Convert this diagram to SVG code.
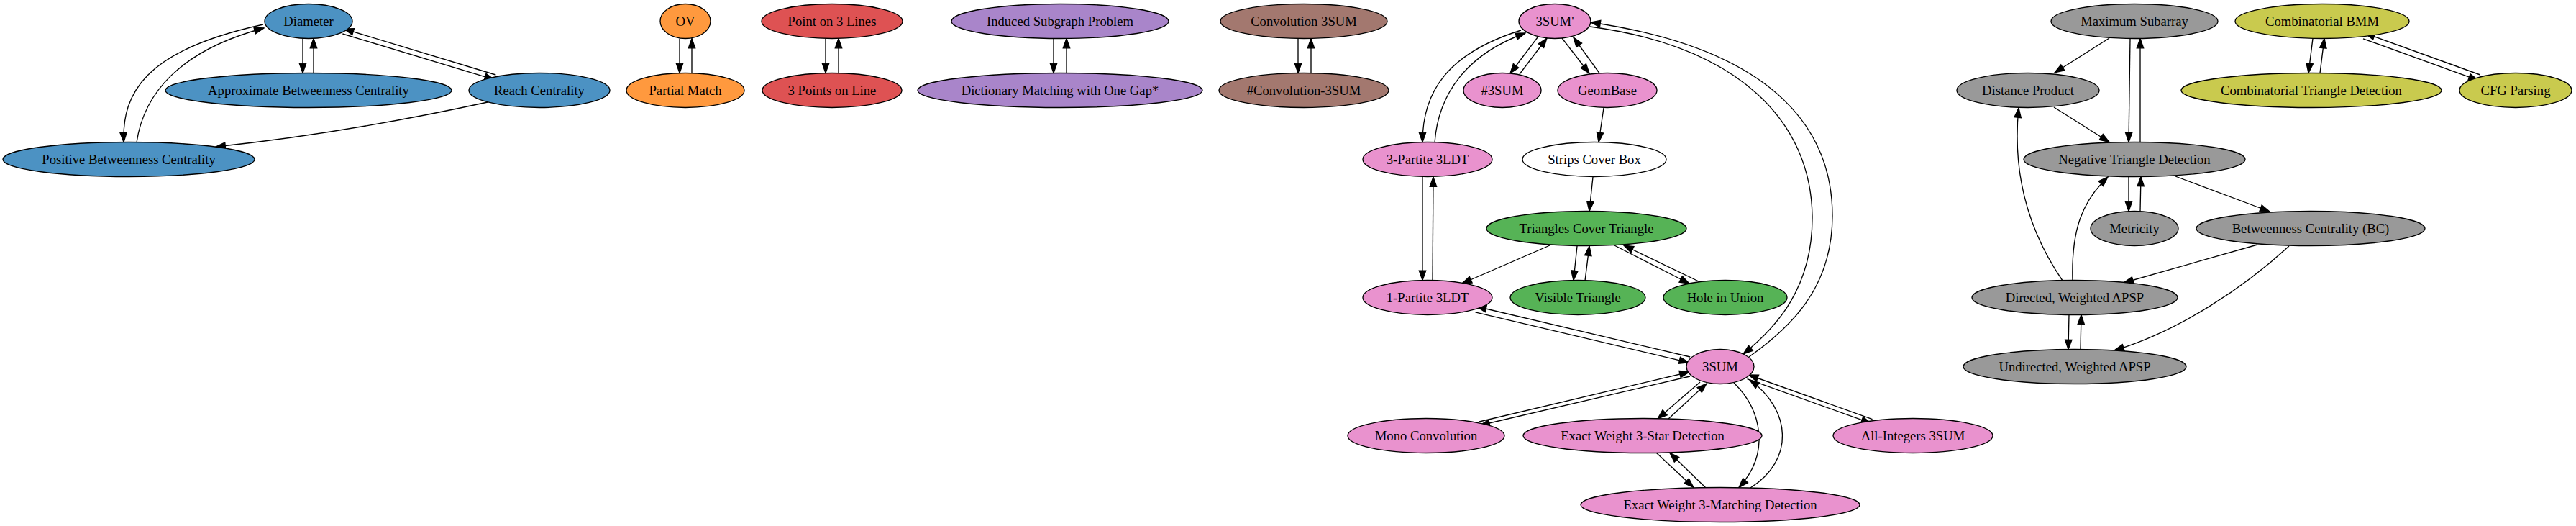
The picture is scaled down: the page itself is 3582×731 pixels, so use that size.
<svg xmlns="http://www.w3.org/2000/svg" width="3582" height="731" viewBox="0 0 3582 731">
<style>
.n ellipse{stroke:#000;stroke-width:1.33}
.n text{font-family:"Liberation Serif","Times New Roman",serif;font-size:18.67px;text-anchor:middle;fill:#000}
.blue ellipse{fill:#4c92c3}.orange ellipse{fill:#ff993e}.red ellipse{fill:#de5253}.purple ellipse{fill:#a985ca}
.brown ellipse{fill:#a3786f}.pink ellipse{fill:#e992ce}.green ellipse{fill:#56b356}.gray ellipse{fill:#999999}
.olive ellipse{fill:#c9ca4e}.white ellipse{fill:#ffffff}
#edges path{fill:none;stroke:#000;stroke-width:1.33;marker-end:url(#ah)}
</style>
<defs>
<marker id="ah" markerUnits="userSpaceOnUse" markerWidth="15" markerHeight="11" refX="13.3" refY="5" orient="auto" overflow="visible">
<path d="M0,0.33 L13.3,5 L0,9.67 z" fill="#000" stroke="#000" stroke-width="1.33"/>
</marker>
</defs>
<rect width="3582" height="731" fill="#fff"/>
<g id="edges">
<path d="M421,53.5 L421,101.5"/>
<path d="M436,101.5 L436,53.5"/>
<path d="M476.4,47 L687.3,110.6"/>
<path d="M689.3,104 L478.4,40.2"/>
<path d="M366,34 C200,70 170,130 172,197.5"/>
<path d="M190,198 C200,130 250,70 367,39"/>
<path d="M678,142 Q480,185 300,204"/>
<path d="M945,53.5 L945,101.5"/>
<path d="M962,101.5 L962,53.5"/>
<path d="M1148,53.5 L1148,101.5"/>
<path d="M1166,101.5 L1166,53.5"/>
<path d="M1465,53.5 L1465,101.5"/>
<path d="M1483,101.5 L1483,53.5"/>
<path d="M1805,53.5 L1805,101.5"/>
<path d="M1823,101.5 L1823,53.5"/>
<path d="M2138,52 L2100,102"/>
<path d="M2113,103 L2151,53"/>
<path d="M2172,53 L2210,102"/>
<path d="M2225,103 L2188,52"/>
<path d="M2115,42 C2010,75 1978,130 1978,197.5"/>
<path d="M1995,198 C2000,130 2040,75 2121,46"/>
<path d="M2211,37 C2420,65 2518,170 2520,300 C2521,400 2470,455 2424,492"/>
<path d="M2432,496 C2490,455 2548,400 2548,300 C2548,190 2480,70 2212,31"/>
<path d="M2230,150 L2223,197.5"/>
<path d="M2215,246 L2210,293.5"/>
<path d="M2155,341 L2033,394"/>
<path d="M2193,342 L2188,389.5"/>
<path d="M2204,390 L2210,342"/>
<path d="M2243,340 L2349,394"/>
<path d="M2362,391 L2258,341"/>
<path d="M1978,246 L1978,389.5"/>
<path d="M1992,390 L1993,246"/>
<path d="M2051.5,433.8 L2348.4,503.8"/>
<path d="M2350.2,496 L2053.3,426"/>
<path d="M2350,523 L2058,591"/>
<path d="M2057,586 L2349,517"/>
<path d="M2364,531 L2305,582"/>
<path d="M2319,583 L2373,533"/>
<path d="M2411,532 C2450,570 2462,630 2418,677.5"/>
<path d="M2434,678 C2495,640 2492,570 2433,528"/>
<path d="M2429.5,526.6 L2601.6,588.2"/>
<path d="M2603.6,582.6 L2431.5,521"/>
<path d="M2303,629 L2355,677.5"/>
<path d="M2372,678 L2322,629.5"/>
<path d="M2933,53 L2857,101"/>
<path d="M2962,53.5 L2960,197.5"/>
<path d="M2976,197.5 L2976,53.5"/>
<path d="M2856,149 L2933,197.5"/>
<path d="M2868,390 C2820,320 2798,240 2807,150"/>
<path d="M2882,390 C2880,320 2895,280 2931,246"/>
<path d="M2960,245.5 L2960,293.5"/>
<path d="M2976,293.5 L2977,245.5"/>
<path d="M3025,245 L3156,294"/>
<path d="M3139,340 L2953,393"/>
<path d="M3183,342 C3120,400 3030,460 2940,487"/>
<path d="M2877,437.5 L2876,485.5"/>
<path d="M2893,485.5 L2894,437.5"/>
<path d="M3216,53.5 L3210,101.5"/>
<path d="M3226,101.5 L3232,53.5"/>
<path d="M3286,53.8 L3446,111.6"/>
<path d="M3448.8,104 L3288.7,46.2"/>
</g>
<g id="n_diameter" class="n blue"><ellipse cx="429" cy="29.5" rx="61" ry="24"/><text x="429" y="35.5">Diameter</text></g>
<g id="n_abc" class="n blue"><ellipse cx="429" cy="125.5" rx="199" ry="24"/><text x="429" y="131.5">Approximate Betweenness Centrality</text></g>
<g id="n_reach" class="n blue"><ellipse cx="750" cy="125.5" rx="98" ry="24"/><text x="750" y="131.5">Reach Centrality</text></g>
<g id="n_pbc" class="n blue"><ellipse cx="179" cy="221.5" rx="175" ry="24"/><text x="179" y="227.5">Positive Betweenness Centrality</text></g>
<g id="n_ov" class="n orange"><ellipse cx="953" cy="29.5" rx="35" ry="24"/><text x="953" y="35.5">OV</text></g>
<g id="n_pm" class="n orange"><ellipse cx="953" cy="125.5" rx="82" ry="24"/><text x="953" y="131.5">Partial Match</text></g>
<g id="n_p3l" class="n red"><ellipse cx="1157" cy="29.5" rx="98" ry="24"/><text x="1157" y="35.5">Point on 3 Lines</text></g>
<g id="n_3pl" class="n red"><ellipse cx="1157" cy="125.5" rx="97" ry="24"/><text x="1157" y="131.5">3 Points on Line</text></g>
<g id="n_isp" class="n purple"><ellipse cx="1474" cy="29.5" rx="151" ry="24"/><text x="1474" y="35.5">Induced Subgraph Problem</text></g>
<g id="n_dm" class="n purple"><ellipse cx="1474" cy="125.5" rx="198" ry="24"/><text x="1474" y="131.5">Dictionary Matching with One Gap*</text></g>
<g id="n_c3s" class="n brown"><ellipse cx="1813" cy="29.5" rx="116" ry="24"/><text x="1813" y="35.5">Convolution 3SUM</text></g>
<g id="n_hc3s" class="n brown"><ellipse cx="1813" cy="125.5" rx="118" ry="24"/><text x="1813" y="131.5">#Convolution-3SUM</text></g>
<g id="n_3sump" class="n pink"><ellipse cx="2162" cy="29.5" rx="50" ry="24"/><text x="2162" y="35.5">3SUM'</text></g>
<g id="n_h3sum" class="n pink"><ellipse cx="2089" cy="125.5" rx="54" ry="24"/><text x="2089" y="131.5">#3SUM</text></g>
<g id="n_geom" class="n pink"><ellipse cx="2235" cy="125.5" rx="69" ry="24"/><text x="2235" y="131.5">GeomBase</text></g>
<g id="n_3p3ldt" class="n pink"><ellipse cx="1985" cy="221.5" rx="90" ry="24"/><text x="1985" y="227.5">3-Partite 3LDT</text></g>
<g id="n_scb" class="n white"><ellipse cx="2217" cy="221.5" rx="100" ry="24"/><text x="2217" y="227.5">Strips Cover Box</text></g>
<g id="n_tct" class="n green"><ellipse cx="2206" cy="317.5" rx="139" ry="24"/><text x="2206" y="323.5">Triangles Cover Triangle</text></g>
<g id="n_1p3ldt" class="n pink"><ellipse cx="1985" cy="413.5" rx="90" ry="24"/><text x="1985" y="419.5">1-Partite 3LDT</text></g>
<g id="n_vt" class="n green"><ellipse cx="2194" cy="413.5" rx="94" ry="24"/><text x="2194" y="419.5">Visible Triangle</text></g>
<g id="n_hiu" class="n green"><ellipse cx="2399" cy="413.5" rx="86" ry="24"/><text x="2399" y="419.5">Hole in Union</text></g>
<g id="n_3sum" class="n pink"><ellipse cx="2392" cy="509.5" rx="47" ry="24"/><text x="2392" y="515.5">3SUM</text></g>
<g id="n_mono" class="n pink"><ellipse cx="1983" cy="605.5" rx="109" ry="24"/><text x="1983" y="611.5">Mono Convolution</text></g>
<g id="n_ew3s" class="n pink"><ellipse cx="2284" cy="605.5" rx="166" ry="24"/><text x="2284" y="611.5">Exact Weight 3-Star Detection</text></g>
<g id="n_ai3s" class="n pink"><ellipse cx="2660" cy="605.5" rx="111" ry="24"/><text x="2660" y="611.5">All-Integers 3SUM</text></g>
<g id="n_ew3m" class="n pink"><ellipse cx="2392" cy="701.5" rx="194" ry="24"/><text x="2392" y="707.5">Exact Weight 3-Matching Detection</text></g>
<g id="n_ms" class="n gray"><ellipse cx="2968" cy="29.5" rx="116" ry="24"/><text x="2968" y="35.5">Maximum Subarray</text></g>
<g id="n_dp" class="n gray"><ellipse cx="2820" cy="125.5" rx="99" ry="24"/><text x="2820" y="131.5">Distance Product</text></g>
<g id="n_ntd" class="n gray"><ellipse cx="2968" cy="221.5" rx="154" ry="24"/><text x="2968" y="227.5">Negative Triangle Detection</text></g>
<g id="n_met" class="n gray"><ellipse cx="2968" cy="317.5" rx="61" ry="24"/><text x="2968" y="323.5">Metricity</text></g>
<g id="n_bc" class="n gray"><ellipse cx="3213" cy="317.5" rx="159" ry="24"/><text x="3213" y="323.5">Betweenness Centrality (BC)</text></g>
<g id="n_dapsp" class="n gray"><ellipse cx="2885" cy="413.5" rx="143" ry="24"/><text x="2885" y="419.5">Directed, Weighted APSP</text></g>
<g id="n_uapsp" class="n gray"><ellipse cx="2885" cy="509.5" rx="155" ry="24"/><text x="2885" y="515.5">Undirected, Weighted APSP</text></g>
<g id="n_bmm" class="n olive"><ellipse cx="3229" cy="29.5" rx="121" ry="24"/><text x="3229" y="35.5">Combinatorial BMM</text></g>
<g id="n_ctd" class="n olive"><ellipse cx="3214" cy="125.5" rx="181" ry="24"/><text x="3214" y="131.5">Combinatorial Triangle Detection</text></g>
<g id="n_cfg" class="n olive"><ellipse cx="3498" cy="125.5" rx="78" ry="24"/><text x="3498" y="131.5">CFG Parsing</text></g>
</svg>
